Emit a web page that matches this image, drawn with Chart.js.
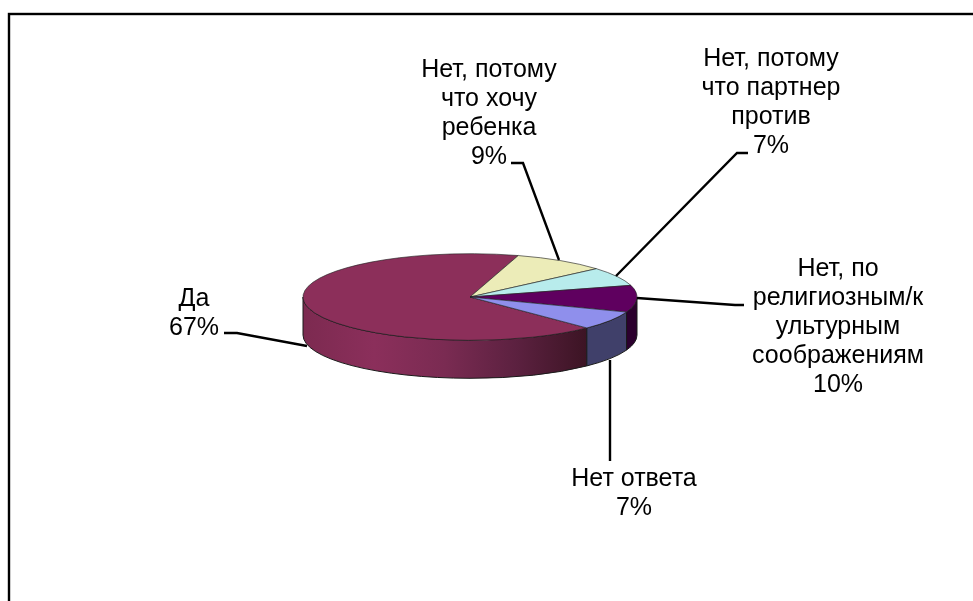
<!DOCTYPE html>
<html>
<head>
<meta charset="utf-8">
<title>Pie</title>
<script src="https://cdn.jsdelivr.net/npm/chart.js@4/dist/chart.umd.min.js"></script>
<style>
  html, body { margin: 0; padding: 0; background: #fff; }
  canvas { display: block; }
</style>
</head>
<body>
<canvas id="pie" width="973" height="601"></canvas>
<script>
const categories = [
  "Да",
  "Нет, потому\nчто хочу\nребенка",
  "Нет, потому\nчто партнер\nпротив",
  "Нет, по\nрелигиозным/к\nультурным\nсоображениям",
  "Нет ответа"
];
const shares = [67, 9, 7, 10, 7];
const topColors = ["#8c2f5a", "#ececb8", "#b8ecec", "#5f005f", "#8f8fec"];
const wallColors = ["#8c2f5a", "#b0b088", "#88b0b0", "#2c002e", "#40406a"];
const daGradient = ["#7c2a50", "#8b2f5b", "#7a2b52", "#5c2140", "#3c1424"];

const firstSliceAngle = 135.6;
const squash = 43.3 / 167;
const depth = 38;

// label centre x, first line centre y, then the leader line
const labelSpots = [
  { x: 194, y: 299, leader: [[224, 333], [237, 333], [307, 346]] },
  { x: 489, y: 70, leader: [[511, 163], [523, 163], [559, 260]] },
  { x: 771, y: 59, leader: [[748, 153], [737, 153], [616, 276]] },
  { x: 838, y: 269, leader: [[744, 305], [735, 305], [637, 298]] },
  { x: 634, y: 479, leader: [[610, 461], [610, 360]] }
];
const lineStep = 29;

const pie3d = {
  id: "pie3d",
  beforeDraw(chart) {
    const ctx = chart.ctx;
    ctx.save();
    ctx.strokeStyle = "#000";
    ctx.lineWidth = 2.4;
    ctx.strokeRect(9, 14, 1000, 700);
    ctx.restore();
  },
  beforeDatasetsDraw(chart) {
    const ctx = chart.ctx;
    chart.getDatasetMeta(0).data.forEach((arc, i) => {
      const p = arc.getProps(["x", "y", "startAngle", "endAngle", "outerRadius"], true);
      // walls only show on the front half of the disc
      const turn = Math.PI * 2;
      let a0 = p.startAngle % turn;
      if (a0 > Math.PI) a0 -= turn;
      const a1 = a0 + (p.endAngle - p.startAngle);
      const from = Math.max(a0, 0);
      const to = Math.min(a1, Math.PI);
      if (to <= from) return;
      const rx = p.outerRadius;
      const ry = rx * squash;
      ctx.beginPath();
      ctx.ellipse(p.x, p.y, rx, ry, 0, from, to);
      ctx.ellipse(p.x, p.y + depth, rx, ry, 0, to, from, true);
      ctx.closePath();
      if (i === 0) {
        const left = p.x - rx;
        const right = p.x + rx * Math.cos(from);
        const g = ctx.createLinearGradient(left, 0, right, 0);
        daGradient.forEach((c, k) => g.addColorStop(k / (daGradient.length - 1), c));
        ctx.fillStyle = g;
      } else {
        ctx.fillStyle = wallColors[i];
      }
      ctx.fill();
      ctx.strokeStyle = "#1a1a1a";
      ctx.lineWidth = 1;
      ctx.stroke();
    });
    const first = chart.getDatasetMeta(0).data[0];
    ctx.save();
    ctx.translate(first.x, first.y);
    ctx.scale(1, squash);
    ctx.translate(-first.x, -first.y);
  },
  afterDatasetsDraw(chart) {
    const ctx = chart.ctx;
    ctx.restore();
    ctx.strokeStyle = "#000";
    ctx.lineWidth = 2.4;
    labelSpots.forEach(s => {
      ctx.beginPath();
      s.leader.forEach((pt, k) => k ? ctx.lineTo(pt[0], pt[1]) : ctx.moveTo(pt[0], pt[1]));
      ctx.stroke();
    });
    ctx.fillStyle = "#000";
    ctx.font = "25px 'Liberation Sans', Arial, sans-serif";
    ctx.textAlign = "center";
    ctx.textBaseline = "middle";
    categories.forEach((name, i) => {
      const lines = name.split("\n").concat(shares[i] + "%");
      lines.forEach((line, k) => {
        ctx.fillText(line, labelSpots[i].x, labelSpots[i].y + k * lineStep);
      });
    });
  }
};

new Chart(document.getElementById("pie").getContext("2d"), {
  type: "pie",
  data: {
    labels: categories,
    datasets: [
      {
        data: shares,
        backgroundColor: topColors,
        borderColor: "#222",
        borderWidth: 1,
        radius: 167,
      },
    ],
  },
  options: {
    responsive: false,
    animation: false,
    rotation: firstSliceAngle,
    layout: { padding: { left: 0, top: 0, right: 33, bottom: 7 } },
    plugins: { legend: { display: false }, tooltip: { enabled: false } },
  },
  plugins: [pie3d],
});
</script>
</body>
</html>
